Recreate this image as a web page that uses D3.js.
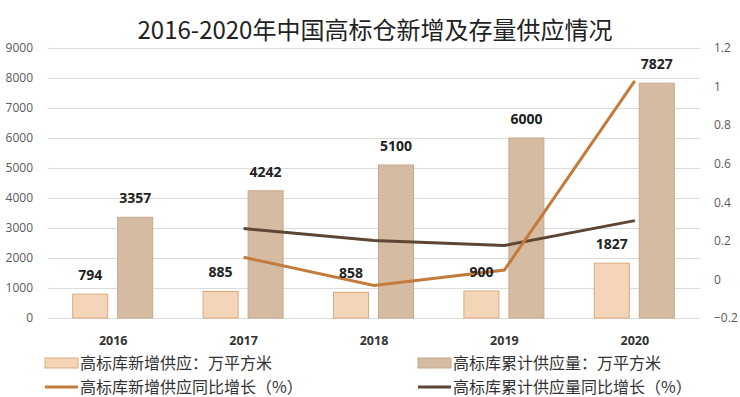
<!DOCTYPE html>
<html>
<head>
<meta charset="utf-8">
<script src="https://cdn.jsdelivr.net/npm/d3@7"></script>
<style>
  body { margin: 0; background: #fff; }
  svg { font-family: Calibri, Carlito, "Noto Sans CJK SC", "Liberation Sans", sans-serif; }
</style>
</head>
<body>
<div id="Area1"></div>
<script>
var years = ["2016", "2017", "2018", "2019", "2020"];
var newSupply = [794, 885, 858, 900, 1827];
var totalSupply = [3357, 4242, 5100, 6000, 7827];
var newGrowth = [null, 0.115, -0.031, 0.049, 1.03];
var totalGrowth = [null, 0.264, 0.202, 0.176, 0.305];
var leftTicks = [0, 1000, 2000, 3000, 4000, 5000, 6000, 7000, 8000, 9000];
var rightTicks = [-0.2, 0, 0.2, 0.4, 0.6, 0.8, 1, 1.2];

var W = 740, H = 397;
var margin = {top: 48, right: 40, bottom: 79, left: 48},
    width = W - margin.left - margin.right,
    height = H - margin.top - margin.bottom;

var svg = d3.select("#Area1").append("svg")
    .attr("width", W).attr("height", H)
    .style("font-family", "Calibri, Carlito, 'Noto Sans CJK SC', sans-serif");

svg.append("text")
    .attr("x", 375).attr("y", 39)
    .attr("text-anchor", "middle")
    .attr("font-size", 24)
    .attr("fill", "#222")
    .style("font-family", "'Noto Sans CJK SC', sans-serif")
    .text("2016-2020年中国高标仓新增及存量供应情况");

var g = svg.append("g").attr("transform", "translate(" + margin.left + "," + margin.top + ")");

var x = d3.scaleBand().domain(years).range([0, width]);
var yL = d3.scaleLinear().domain([0, 9000]).range([height, 0]);
var yR = d3.scaleLinear().domain([-0.2, 1.2]).range([height, 0]);

// grid + left axis
var axL = g.append("g")
    .call(d3.axisLeft(yL).tickValues(leftTicks).tickSize(-width).tickPadding(15).tickFormat(d3.format("d")));
axL.select(".domain").remove();
axL.selectAll("line").attr("stroke", "#dcdcdc");
axL.selectAll("text").attr("fill", "#595959").attr("font-size", 12).style("font-family", "'Open Sans', sans-serif");

var axR = g.append("g")
    .attr("transform", "translate(" + width + ",0)")
    .call(d3.axisRight(yR).tickValues(rightTicks).tickSize(0).tickPadding(14).tickFormat(function(d){ return d3.format("")(+d.toFixed(1)); }));
axR.select(".domain").remove();
axR.selectAll("text").attr("fill", "#595959").attr("font-size", 12).style("font-family", "'Open Sans', sans-serif");

// year labels
g.append("g").selectAll("text").data(years).join("text")
    .attr("x", function(d){ return x(d) + x.bandwidth() / 2; })
    .attr("y", height + 27)
    .attr("text-anchor", "middle")
    .attr("font-size", 12.5).attr("font-weight", "bold").attr("fill", "#333")
    .style("font-family", "'Open Sans', sans-serif")
    .text(function(d){ return d; });

var bw = 35;
// bars
g.append("g").selectAll("rect").data(newSupply).join("rect")
    .attr("x", function(d, i){ return x(years[i]) + x.bandwidth() / 2 - 23 - bw / 2; })
    .attr("y", function(d){ return yL(d); })
    .attr("width", bw)
    .attr("height", function(d){ return height - yL(d); })
    .attr("fill", "#f4d5b8").attr("stroke", "#dba97c").attr("stroke-width", 1);

g.append("g").selectAll("rect").data(totalSupply).join("rect")
    .attr("x", function(d, i){ return x(years[i]) + x.bandwidth() / 2 + 22 - bw / 2; })
    .attr("y", function(d){ return yL(d); })
    .attr("width", bw)
    .attr("height", function(d){ return height - yL(d); })
    .attr("fill", "#d6bba3").attr("stroke", "#c8a88c").attr("stroke-width", 1);

// lines
var line = d3.line()
    .defined(function(d){ return d.v != null; })
    .x(function(d){ return x(d.k) + x.bandwidth() / 2; })
    .y(function(d){ return yR(d.v); });

function pts(arr) { return arr.map(function(v, i){ return {k: years[i], v: v}; }); }

g.append("path").attr("d", line(pts(totalGrowth)))
    .attr("fill", "none").attr("stroke", "#5e4534").attr("stroke-width", 3);
g.append("path").attr("d", line(pts(newGrowth)))
    .attr("fill", "none").attr("stroke", "#c27b3d").attr("stroke-width", 3);

// value labels
function labels(arr, off) {
  g.append("g").selectAll("text").data(arr).join("text")
    .attr("x", function(d, i){ return x(years[i]) + x.bandwidth() / 2 + off; })
    .attr("y", function(d){ return yL(d) - 14; })
    .attr("text-anchor", "middle")
    .attr("font-size", 14).attr("font-weight", "bold").attr("fill", "#222")
    .style("font-family", "'Open Sans', sans-serif")
    .text(function(d){ return d; });
}
labels(newSupply, -23);
labels(totalSupply, 22);

// legend
var legend = [
  {name: "高标库新增供应：万平方米", type: "rect", fill: "#f4d5b8", stroke: "#dba97c", x: 45, y: 363},
  {name: "高标库累计供应量：万平方米", type: "rect", fill: "#d6bba3", stroke: "#c8a88c", x: 418, y: 363},
  {name: "高标库新增供应同比增长（%）", type: "line", stroke: "#c27b3d", x: 45, y: 387},
  {name: "高标库累计供应量同比增长（%）", type: "line", stroke: "#5e4534", x: 418, y: 387}
];
var lg = svg.append("g");
legend.forEach(function(d) {
  if (d.type == "rect") {
    lg.append("rect").attr("x", d.x).attr("y", d.y - 5).attr("width", 33).attr("height", 10)
      .attr("fill", d.fill).attr("stroke", d.stroke);
  } else {
    lg.append("line").attr("x1", d.x).attr("x2", d.x + 33).attr("y1", d.y).attr("y2", d.y)
      .attr("stroke", d.stroke).attr("stroke-width", 3);
  }
  lg.append("text").attr("x", d.x + 35).attr("y", d.y + 6)
    .attr("font-size", 16).attr("fill", "#333")
    .style("font-family", "'Noto Sans CJK SC', sans-serif")
    .text(d.name);
});
</script>
</body>
</html>
